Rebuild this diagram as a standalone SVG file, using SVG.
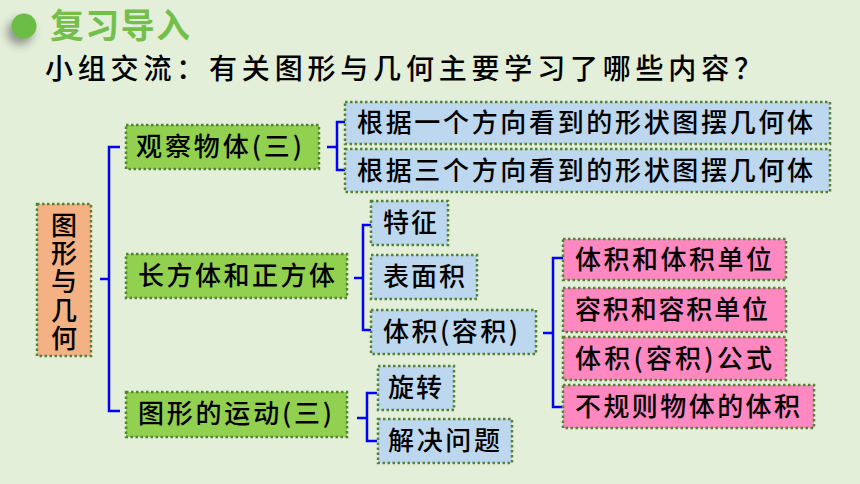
<svg xmlns="http://www.w3.org/2000/svg" width="860" height="484" viewBox="0 0 860 484">
<defs>
<filter id="blur" x="-1" y="-1" width="3" height="3"><feGaussianBlur stdDeviation="4"/></filter>
<style>
.box{stroke:#548235;stroke-width:2.5;stroke-dasharray:2.5 2.5}
.g{fill:#92d050}
.b{fill:#bdd7ee}
.p{fill:#ff88c0}
.o{fill:#f4b183}
.t{font-family:"Noto Sans CJK SC","Noto Sans",sans-serif;font-size:26px;fill:#000;font-weight:500}
.c{fill:none;stroke:#0000ff;stroke-width:2.5}
</style>
</defs>
<rect x="0" y="0" width="860" height="484" fill="#e3efd9"/>
<g id="title">
<circle cx="20" cy="32" r="13" fill="#555" opacity="0.55" filter="url(#blur)"/>
<circle cx="24" cy="26" r="12.5" fill="#6cbd45"/>
<text x="50" y="38" font-family="'Noto Sans CJK SC',sans-serif" font-size="34" font-weight="700" fill="#74bf4c" textLength="140" lengthAdjust="spacing">复习导入</text>
<text x="45" y="79" font-family="'Noto Sans CJK SC',sans-serif" font-size="28" font-weight="500" fill="#000" textLength="717" lengthAdjust="spacing">小组交流：有关图形与几何主要学习了哪些内容？</text>
</g>
<g id="connectors">
<path class="c" d="M100,279 H109 M120,147 H109 V411 H120"/>
<path class="c" d="M327,147 H337 M345,122 H337 V170 H345"/>
<path class="c" d="M354,278 H363 M372,225 H363 V330 H372"/>
<path class="c" d="M357,418 H367 M377,393 H367 V441 H377"/>
<path class="c" d="M543,333 H553 M563,258 H553 V407 H563"/>
</g>
<g id="root">
<rect class="box o" x="37" y="204" width="54" height="152"/>
<text class="t" x="64" y="212" writing-mode="vertical-rl" letter-spacing="2.25">图形与几何</text>
</g>
<g id="n-guancha">
<rect class="box g" x="126" y="125" width="193" height="44"/>
<text class="t" x="136" y="156" textLength="166" lengthAdjust="spacing">观察物体(三)</text>
</g>
<g id="n-changfangti">
<rect class="box g" x="126" y="254" width="221" height="44"/>
<text class="t" x="138" y="285" textLength="197" lengthAdjust="spacing">长方体和正方体</text>
</g>
<g id="n-yundong">
<rect class="box g" x="126" y="392" width="221" height="45"/>
<text class="t" x="138" y="423" textLength="194" lengthAdjust="spacing">图形的运动(三)</text>
</g>
<g id="n-yige">
<rect class="box b" x="345" y="102" width="485" height="42"/>
<text class="t" x="357" y="132" textLength="456" lengthAdjust="spacing">根据一个方向看到的形状图摆几何体</text>
</g>
<g id="n-sange">
<rect class="box b" x="345" y="149" width="485" height="43"/>
<text class="t" x="357" y="180" textLength="456" lengthAdjust="spacing">根据三个方向看到的形状图摆几何体</text>
</g>
<g id="n-tezheng">
<rect class="box b" x="371" y="201" width="77" height="44"/>
<text class="t" x="383" y="232" textLength="54" lengthAdjust="spacing">特征</text>
</g>
<g id="n-biaomianji">
<rect class="box b" x="371" y="255" width="106" height="44"/>
<text class="t" x="383" y="286" textLength="82" lengthAdjust="spacing">表面积</text>
</g>
<g id="n-tiji">
<rect class="box b" x="371" y="310" width="165" height="44"/>
<text class="t" x="383" y="341" textLength="135" lengthAdjust="spacing">体积(容积)</text>
</g>
<g id="n-xuanzhuan">
<rect class="box b" x="378" y="366" width="76" height="44"/>
<text class="t" x="388" y="397" textLength="54" lengthAdjust="spacing">旋转</text>
</g>
<g id="n-jiejue">
<rect class="box b" x="378" y="419" width="134" height="44"/>
<text class="t" x="388" y="450" textLength="112" lengthAdjust="spacing">解决问题</text>
</g>
<g id="n-tijidanwei">
<rect class="box p" x="563" y="239" width="223" height="41"/>
<text class="t" x="575" y="269" textLength="197" lengthAdjust="spacing">体积和体积单位</text>
</g>
<g id="n-rongjidanwei">
<rect class="box p" x="563" y="288" width="223" height="44"/>
<text class="t" x="575" y="319" textLength="193" lengthAdjust="spacing">容积和容积单位</text>
</g>
<g id="n-gongshi">
<rect class="box p" x="563" y="337" width="223" height="43"/>
<text class="t" x="575" y="368" textLength="197" lengthAdjust="spacing">体积(容积)公式</text>
</g>
<g id="n-buguize">
<rect class="box p" x="563" y="385" width="251" height="43"/>
<text class="t" x="575" y="416" textLength="225" lengthAdjust="spacing">不规则物体的体积</text>
</g>
</svg>
